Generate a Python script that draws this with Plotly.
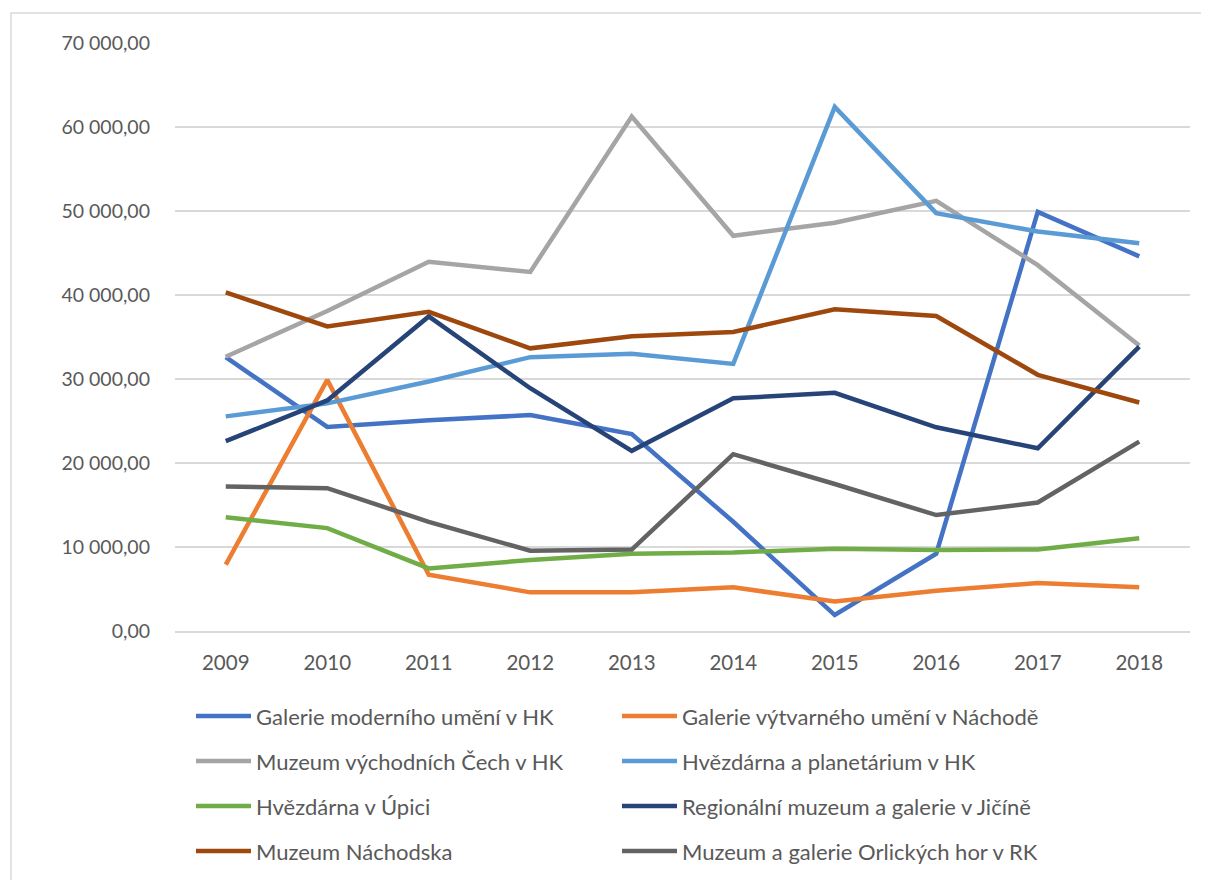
import plotly.graph_objects as go

years = ["2009", "2010", "2011", "2012", "2013", "2014", "2015", "2016", "2017", "2018"]

names = [
    "Galerie moderního umění v HK",
    "Galerie výtvarného umění v Náchodě",
    "Muzeum východních Čech v HK",
    "Hvězdárna a planetárium v HK",
    "Hvězdárna v Úpici",
    "Regionální muzeum a galerie v Jičíně",
    "Muzeum Náchodska",
    "Muzeum a galerie Orlických hor v RK",
]

galerie_moderniho = [32600, 24300, 25100, 25700, 23450, 13000, 1900, 9200, 49900, 44600]
galerie_vytvarneho = [7900, 29900, 6700, 4600, 4600, 5200, 3500, 4800, 5700, 5200]
muzeum_vychodnich = [32650, 38100, 43950, 42750, 61250, 47050, 48600, 51200, 43550, 34000]
hvezdarna_hk = [25550, 27100, 29700, 32600, 33000, 31800, 62400, 49750, 47550, 46150]
hvezdarna_upice = [13550, 12250, 7450, 8450, 9200, 9350, 9800, 9650, 9700, 11050]
regionalni_jicin = [22600, 27450, 37450, 28900, 21450, 27700, 28350, 24250, 21750, 33850]
muzeum_nachodska = [40300, 36250, 38000, 33650, 35100, 35600, 38300, 37500, 30500, 27200]
muzeum_orlickych = [17200, 17000, 13000, 9550, 9700, 21050, 17500, 13800, 15300, 22550]

series = [galerie_moderniho, galerie_vytvarneho, muzeum_vychodnich, hvezdarna_hk,
          hvezdarna_upice, regionalni_jicin, muzeum_nachodska, muzeum_orlickych]
colors = ["#4472C4", "#ED7D31", "#A5A5A5", "#5B9BD5", "#70AD47", "#264478", "#9E480E", "#636363"]

y_ticks = [0, 10000, 20000, 30000, 40000, 50000, 60000, 70000]

FONT = "Lato"
FS = 22
TXT = "#595959"

OFF = 8  # page body margin
W, H = 1209 - OFF, 880 - OFF
# plot area in screenshot pixels: x 175..1190, y 43..631
L, T = 175 - OFF, 43 - OFF
R = W - (1190 - OFF)
B = H - (631 - OFF)
PW, PH = W - L - R, H - T - B

def px_x(px):
    return (px - OFF - L) / PW

def px_y(py):
    return (H - B - (py - OFF)) / PH

fig = go.Figure()
for name, vals, col in zip(names, series, colors):
    fig.add_trace(go.Scatter(x=years, y=vals, mode="lines", name=name,
                             line=dict(color=col, width=4.5), showlegend=False))

shapes = []
annotations = []
# outer frame
shapes.append(dict(type="rect", xref="paper", yref="paper",
                   x0=px_x(11), x1=px_x(1240), y0=px_y(920), y1=px_y(13),
                   line=dict(color="#D9D9D9", width=1.5), layer="below"))

# manual legend: two columns
rows_y = [716, 761, 806, 851]
cols_x = [(196, 251, 254), (622, 677, 680)]
for i, (name, col) in enumerate(zip(names, colors)):
    c = i % 2
    r = i // 2
    lx0, lx1, tx = cols_x[c]
    yy = rows_y[r]
    shapes.append(dict(type="line", xref="paper", yref="paper",
                       x0=px_x(lx0), x1=px_x(lx1), y0=px_y(yy), y1=px_y(yy),
                       line=dict(color=col, width=4.5)))
    annotations.append(dict(xref="paper", yref="paper", x=px_x(tx), y=px_y(yy),
                            text=name, showarrow=False, xanchor="left", yanchor="middle",
                            font=dict(family=FONT, size=FS, color=TXT)))

fig.update_layout(
    width=W, height=H,
    margin=dict(l=L, r=R, t=T, b=B, pad=0),
    paper_bgcolor="white", plot_bgcolor="white",
    separators=", ",
    font=dict(family=FONT, size=FS, color=TXT),
    shapes=shapes, annotations=annotations,
    showlegend=False,
    xaxis=dict(type="category", range=[-0.5, 9.5], showgrid=False, zeroline=False,
               showline=True, linecolor="#D9D9D9", linewidth=1.5, ticks="",
               tickfont=dict(family=FONT, size=20.5, color=TXT), ticklabelstandoff=13),
    yaxis=dict(range=[0, 70000], tickvals=y_ticks, tickformat=",.2f",
               showgrid=True, gridcolor="#D9D9D9", gridwidth=1.5, zeroline=False,
               showline=False, ticks="",
               tickfont=dict(family=FONT, size=19.5, color=TXT), ticklabelstandoff=24),
)

fig.write_html("out.html")
